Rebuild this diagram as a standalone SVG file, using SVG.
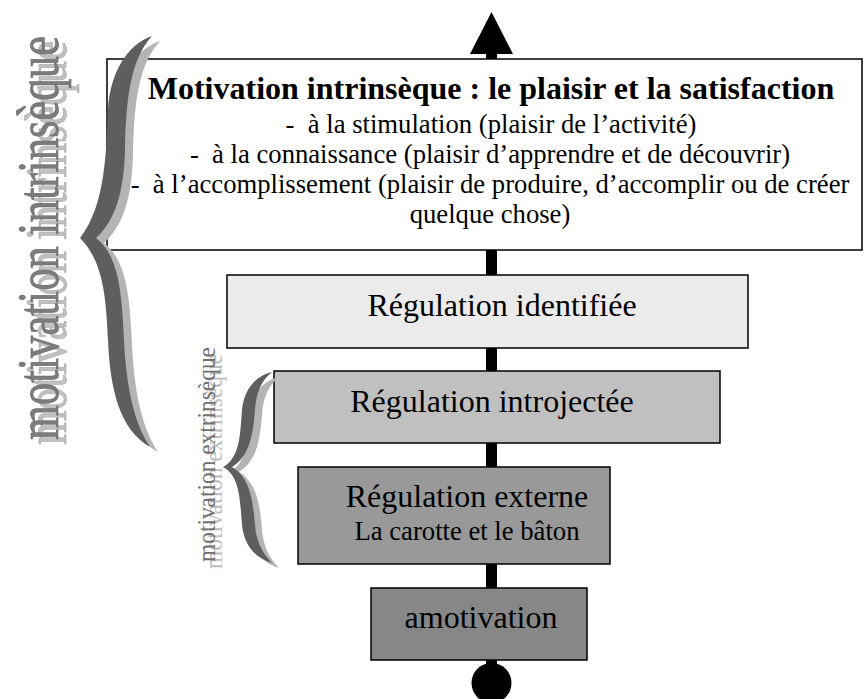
<svg xmlns="http://www.w3.org/2000/svg" xmlns:xlink="http://www.w3.org/1999/xlink" width="865" height="699" viewBox="0 0 865 699">
<style>
.box{stroke:#000;stroke-width:1.5}
.t{font-family:"Liberation Serif","Times New Roman",serif;fill:#000;text-anchor:middle}
.big{font-size:32px}
.body{font-size:26.67px}
.rot{font-family:"Liberation Serif","Times New Roman",serif}
</style>
<defs>
<path id="braceBig" d="M152,36 C128,44 110,72 108,110 C106,150 106,205 80,238 C104,262 106,300 108,340 C110,390 120,430 150,447 C132,420 126,380 124,340 C122,290 118,255 96,238 C116,220 124,190 125,150 C126,100 130,60 152,36 Z"/>
<path id="braceSmall" d="M272,372 C255,376 244,390 242,410 C240,435 240,458 223,467 C240,476 240,500 242,525 C244,545 255,558 272,563 C262,553 256,540 255,525 C253,500 250,478 232,467 C250,456 253,434 255,410 C256,392 262,380 272,372 Z"/>
</defs>
<rect width="865" height="699" fill="#fff"/>
<g id="connectors">
<rect x="486" y="50" width="11" height="632" fill="#000"/>
<polygon points="491.5,12 470,54 513,54" fill="#000"/>
<circle cx="491.5" cy="683" r="20" fill="#000"/>
</g>
<g id="intrinseque">
<rect class="box" x="107" y="59" width="755" height="191" fill="#fff"/>
<text class="t" x="491" y="99" font-size="32" font-weight="bold">Motivation intrinsèque : le plaisir et la satisfaction</text>
<text class="t body" x="491" y="133" xml:space="preserve">-  à la stimulation (plaisir de l’activité)</text>
<text class="t body" x="490" y="163" xml:space="preserve">-  à la connaissance (plaisir d’apprendre et de découvrir)</text>
<text class="t body" x="490" y="193" xml:space="preserve">-  à l’accomplissement (plaisir de produire, d’accomplir ou de créer</text>
<text class="t body" x="490" y="223">quelque chose)</text>
</g>
<g id="identifiee">
<rect class="box" x="227" y="275" width="521" height="73" fill="#ebebeb"/>
<text class="t big" x="502" y="316">Régulation identifiée</text>
</g>
<g id="introjectee">
<rect class="box" x="274" y="371" width="446" height="72" fill="#c0c0c0"/>
<text class="t big" x="492" y="412">Régulation introjectée</text>
</g>
<g id="externe">
<rect class="box" x="298" y="467" width="312" height="97" fill="#999999"/>
<text class="t big" x="467" y="507">Régulation externe</text>
<text class="t body" x="467" y="540">La carotte et le bâton</text>
</g>
<g id="amotivation">
<rect class="box" x="371" y="588" width="216" height="72" fill="#878787"/>
<text class="t big" x="481" y="628">amotivation</text>
</g>
<g id="label-intrinseque">
<use xlink:href="#braceBig" transform="translate(8,5)" fill="#b4b4b4"/>
<use xlink:href="#braceBig" fill="#5e5e5e"/>
<text class="rot" transform="translate(66,445) rotate(-90)" font-size="60" textLength="404" lengthAdjust="spacingAndGlyphs" fill="#c0c0c0" stroke="#a8a8a8" stroke-width="0.6">motivation intrinsèque</text>
<text class="rot" transform="translate(58,440) rotate(-90)" font-size="60" textLength="404" lengthAdjust="spacingAndGlyphs" fill="#7c7c7c" stroke="#666" stroke-width="0.6">motivation intrinsèque</text>
</g>
<g id="label-extrinseque">
<use xlink:href="#braceSmall" transform="translate(7,5)" fill="#b4b4b4"/>
<use xlink:href="#braceSmall" fill="#5e5e5e"/>
<text class="rot" transform="translate(222,569) rotate(-90)" font-size="26" textLength="215" lengthAdjust="spacingAndGlyphs" fill="#bdbdbd">motivation extrinsèque</text>
<text class="rot" transform="translate(215,562) rotate(-90)" font-size="26" textLength="215" lengthAdjust="spacingAndGlyphs" fill="#707070">motivation extrinsèque</text>
</g>
</svg>
